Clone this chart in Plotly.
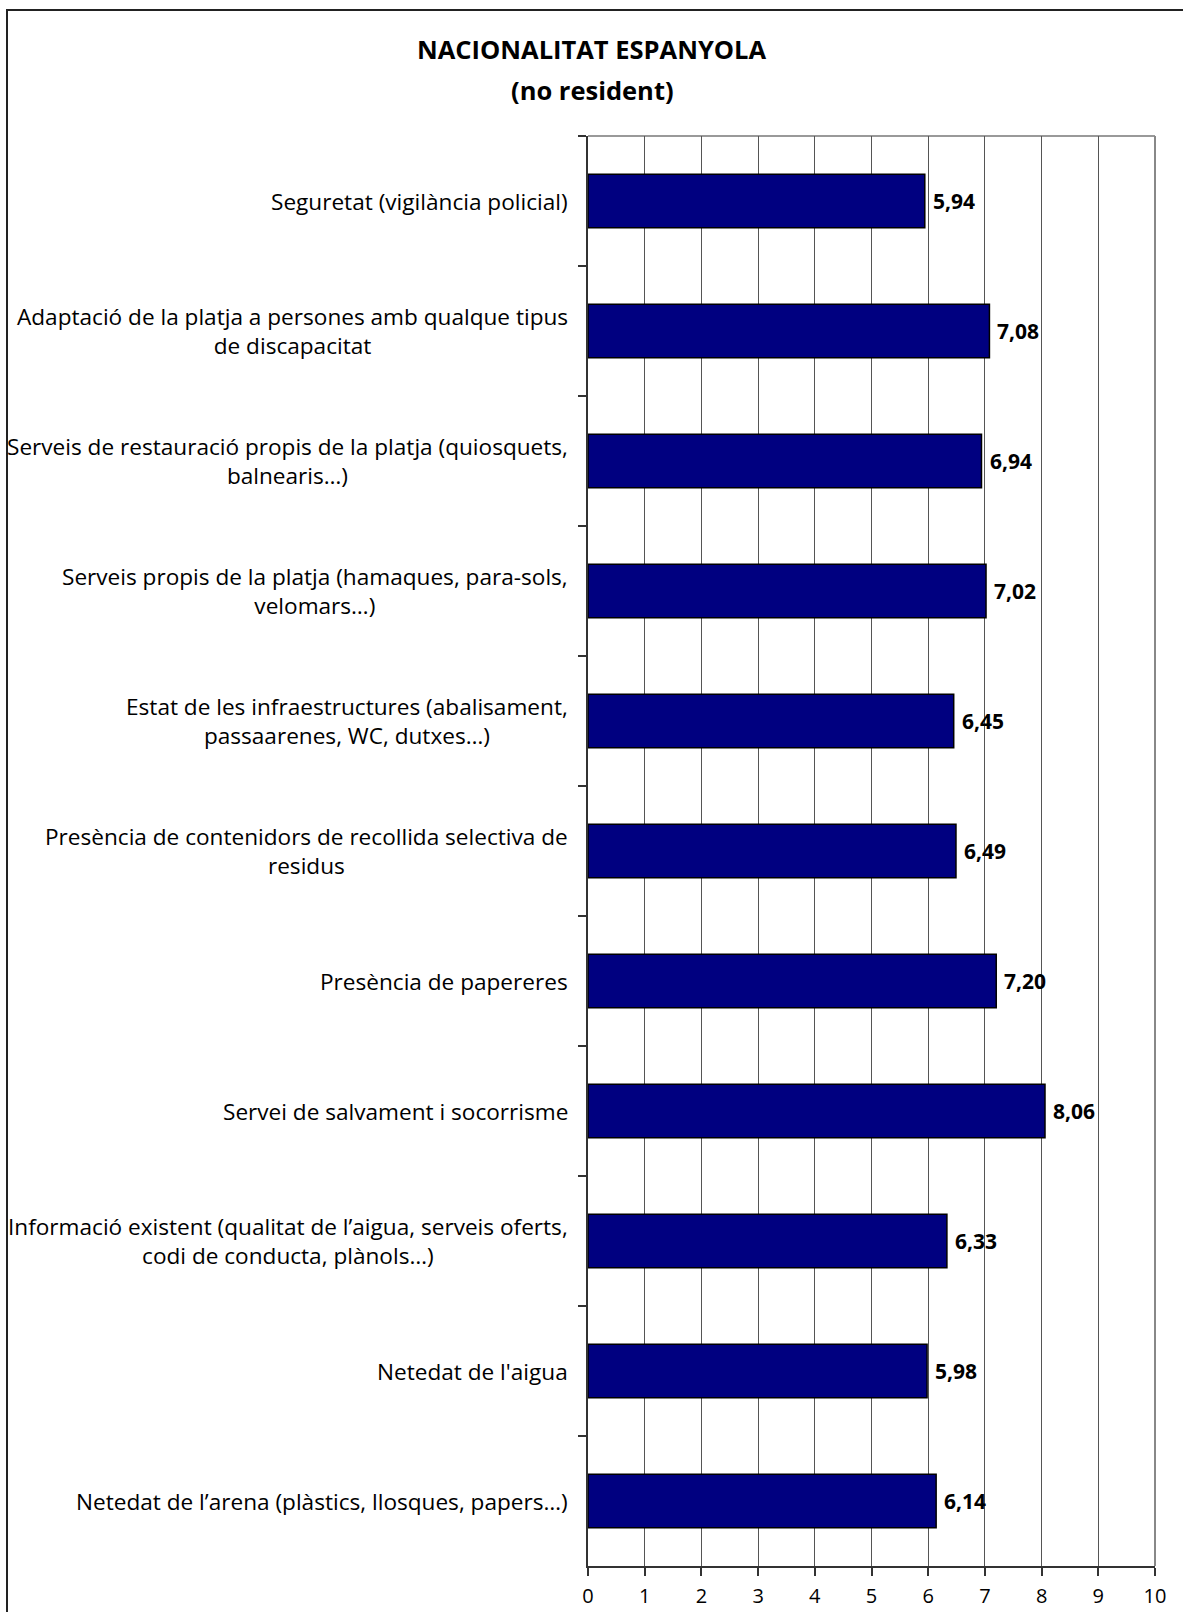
import plotly.graph_objects as go

categories = [
    "Seguretat (vigilància policial)",
    "Adaptació de la platja a persones amb qualque tipus<br>de discapacitat",
    "Serveis de restauració propis de la platja (quiosquets,<br>balnearis…)",
    "Serveis propis de la platja (hamaques, para-sols,<br>velomars…)",
    "Estat de les infraestructures (abalisament,<br>passaarenes, WC, dutxes…)",
    "Presència de contenidors de recollida selectiva de<br>residus",
    "Presència de papereres",
    "Servei de salvament i socorrisme",
    "Informació existent (qualitat de l’aigua, serveis oferts,<br>codi de conducta, plànols…)",
    "Netedat de l'aigua",
    "Netedat de l’arena (plàstics, llosques, papers…)",
]
values = [5.94, 7.08, 6.94, 7.02, 6.45, 6.49, 7.20, 8.06, 6.33, 5.98, 6.14]
x_ticks = list(range(0, 11))
title_lines = ["NACIONALITAT ESPANYOLA", "(no resident)"]

W, H = 1183, 1612
L, R, T, B = 588, 1155, 136, 1566
FONT = "Open Sans"
LABEL_SIZE = 22.6


def px_x(px):
    return (px - L) / (R - L)


def px_y(py):
    return (B - py) / (B - T)


fig = go.Figure()
fig.add_trace(go.Bar(
    y=categories,
    x=values,
    orientation="h",
    marker=dict(color="#000080", line=dict(color="black", width=1.5)),
    width=0.41,
    hoverinfo="skip",
))

annotations = []
for cat in categories:
    annotations.append(dict(
        x=px_x(570), xref="paper", y=cat, yref="y",
        text=cat, showarrow=False, xanchor="right", yanchor="middle",
        align="center",
        font=dict(family=FONT, size=LABEL_SIZE, color="black"),
    ))

for cat, v in zip(categories, values):
    annotations.append(dict(
        x=v, xref="x", y=cat, yref="y",
        text="<b>" + f"{v:.2f}".replace(".", ",") + "</b>",
        showarrow=False, xanchor="left", yanchor="middle", xshift=6,
        font=dict(family=FONT, size=21, color="black"),
    ))
annotations.append(dict(x=px_x(592), xref="paper", y=px_y(49), yref="paper",
                        text="<b>" + title_lines[0] + "</b>", showarrow=False,
                        xanchor="center", yanchor="middle",
                        font=dict(family=FONT, size=25.5, color="black")))
annotations.append(dict(x=px_x(592), xref="paper", y=px_y(90), yref="paper",
                        text="<b>" + title_lines[1] + "</b>", showarrow=False,
                        xanchor="center", yanchor="middle",
                        font=dict(family=FONT, size=25.5, color="black")))

shapes = [
    dict(type="rect", xref="paper", yref="paper",
         x0=px_x(7), x1=px_x(1200), y0=px_y(1630), y1=px_y(10),
         line=dict(color="#222222", width=2), fillcolor="rgba(0,0,0,0)", layer="below"),
    dict(type="line", xref="paper", yref="paper", x0=0, x1=1, y0=1, y1=1,
         line=dict(color="#999999", width=2), layer="below"),
    dict(type="line", xref="paper", yref="paper", x0=1, x1=1, y0=0, y1=1,
         line=dict(color="#888888", width=2), layer="below"),
]

fig.update_layout(
    width=W, height=H,
    margin=dict(l=L, r=W - R, t=T, b=H - B, pad=0, autoexpand=False),
    paper_bgcolor="white", plot_bgcolor="white",
    showlegend=False,
    annotations=annotations,
    shapes=shapes,
    font=dict(family=FONT, color="black"),
)
fig.update_xaxes(
    range=[0, 10], tickvals=x_ticks, ticktext=[str(v) for v in x_ticks],
    showgrid=True, gridcolor="#555555", gridwidth=1,
    showline=True, linecolor="#333333", linewidth=2,
    ticks="outside", ticklen=8, tickcolor="#333333", tickwidth=1.5,
    tickfont=dict(family=FONT, size=20, color="black"),
    ticklabelstandoff=3, automargin=False,
    zeroline=False, fixedrange=True,
)
fig.update_yaxes(
    autorange="reversed", type="category",
    showticklabels=False, tickson="boundaries", automargin=False,
    ticks="outside", ticklen=8, tickcolor="#333333", tickwidth=1.5,
    showline=True, linecolor="#333333", linewidth=2,
    showgrid=False, zeroline=False,
)

fig.write_html("out.html")
